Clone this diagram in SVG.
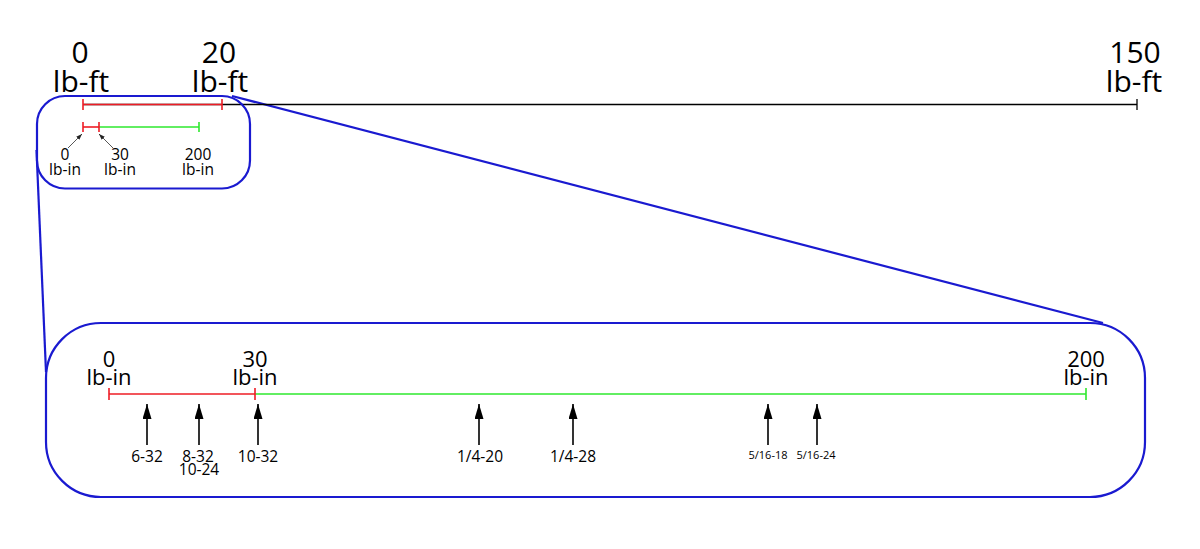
<svg xmlns="http://www.w3.org/2000/svg" width="1200" height="549" viewBox="0 0 1200 549">
<defs>
<style>
text{font-family:"Open Sans","Liberation Sans",sans-serif;fill:#000;text-anchor:middle}
.big{font-size:30px}
.mid{font-size:22px}
.sm{font-size:15.5px}
.th{font-size:15.5px}
.tiny{font-size:11px}
.red{stroke:#ee1c25;stroke-width:1.6;fill:none}
.grn{stroke:#2ee82e;stroke-width:1.6;fill:none}
.blk{stroke:#000;stroke-width:1.3;fill:none}
.blue{stroke:#1a1ad0;stroke-width:2.2;fill:none}
.arr{stroke:#000;stroke-width:1.6;fill:none;marker-end:url(#ah)}
.sarr{stroke:#444;stroke-width:0.9;fill:none;marker-end:url(#sah)}
</style>
<marker id="ah" markerUnits="userSpaceOnUse" markerWidth="16" markerHeight="10" refX="15" refY="4.5" orient="auto" viewBox="0 0 16 10">
<path d="M0,0 L15,4.5 L0,9 z" fill="#000"/>
</marker>
<marker id="sah" markerUnits="userSpaceOnUse" markerWidth="7" markerHeight="5" refX="6" refY="2.2" orient="auto" viewBox="0 0 7 5">
<path d="M0,0 L6,2.2 L0,4.4 z" fill="#222"/>
</marker>
</defs>

<g id="connectors">
<line class="blue" x1="232" y1="96" x2="1103" y2="323"/>
<line class="blue" x1="36.5" y1="150" x2="46" y2="372"/>
</g>

<g id="top-scale">
<line class="blk" x1="83" y1="104.5" x2="1137" y2="104.5"/>
<line class="blk" x1="1137" y1="99" x2="1137" y2="110"/>
<line class="red" x1="83" y1="104.5" x2="222" y2="104.5"/>
<line class="red" x1="83" y1="99" x2="83" y2="110"/>
<line class="red" x1="222" y1="99" x2="222" y2="110"/>
<text class="big" x="80" y="63">0</text>
<text class="big" x="81" y="92">lb-ft</text>
<text class="big" x="219" y="63">20</text>
<text class="big" x="220" y="92">lb-ft</text>
<text class="big" x="1135" y="63">150</text>
<text class="big" x="1134" y="92">lb-ft</text>
</g>

<g id="small-box">
<rect class="blue" x="37" y="96" width="213" height="92.5" rx="28" ry="28"/>
<line class="red" x1="83" y1="127" x2="99" y2="127"/>
<line class="grn" x1="99" y1="127" x2="199" y2="127"/>
<line class="red" x1="83" y1="122" x2="83" y2="132"/>
<line class="red" x1="99" y1="122" x2="99" y2="132"/>
<line class="grn" x1="199" y1="122" x2="199" y2="132"/>
<line class="sarr" x1="68" y1="148" x2="82" y2="134"/>
<line class="sarr" x1="113" y1="148" x2="99" y2="134"/>
<text class="sm" x="65" y="160">0</text>
<text class="sm" x="65" y="175">lb-in</text>
<text class="sm" x="120" y="160">30</text>
<text class="sm" x="120" y="175">lb-in</text>
<text class="sm" x="198" y="160">200</text>
<text class="sm" x="198" y="175">lb-in</text>
</g>

<g id="big-box">
<rect class="blue" x="46" y="323" width="1099" height="174" rx="55" ry="55"/>
<line class="red" x1="109" y1="394" x2="255" y2="394"/>
<line class="grn" x1="255" y1="394" x2="1086" y2="394"/>
<line class="red" x1="109" y1="388" x2="109" y2="400"/>
<line class="red" x1="255" y1="388" x2="255" y2="400"/>
<line class="grn" x1="1086" y1="388" x2="1086" y2="400"/>
<text class="mid" x="109" y="367">0</text>
<text class="mid" x="109" y="385">lb-in</text>
<text class="mid" x="255" y="367">30</text>
<text class="mid" x="255" y="385">lb-in</text>
<text class="mid" x="1086" y="367">200</text>
<text class="mid" x="1086" y="385">lb-in</text>
</g>

<g id="thread-6-32">
<line class="arr" x1="147" y1="445" x2="147" y2="404"/>
<text class="th" x="147" y="462">6-32</text>
</g>
<g id="thread-8-32">
<line class="arr" x1="199" y1="445" x2="199" y2="404"/>
<text class="th" x="198" y="462">8-32</text>
<text class="th" x="199" y="475">10-24</text>
</g>
<g id="thread-10-32">
<line class="arr" x1="258" y1="445" x2="258" y2="404"/>
<text class="th" x="258" y="462">10-32</text>
</g>
<g id="thread-1-4-20">
<line class="arr" x1="479" y1="445" x2="479" y2="404"/>
<text class="th" x="480" y="462">1/4-20</text>
</g>
<g id="thread-1-4-28">
<line class="arr" x1="573" y1="445" x2="573" y2="404"/>
<text class="th" x="573" y="462">1/4-28</text>
</g>
<g id="thread-5-16-18">
<line class="arr" x1="768" y1="445" x2="768" y2="404"/>
<text class="tiny" x="768" y="459">5/16-18</text>
</g>
<g id="thread-5-16-24">
<line class="arr" x1="817" y1="445" x2="817" y2="404"/>
<text class="tiny" x="816" y="459">5/16-24</text>
</g>
</svg>
